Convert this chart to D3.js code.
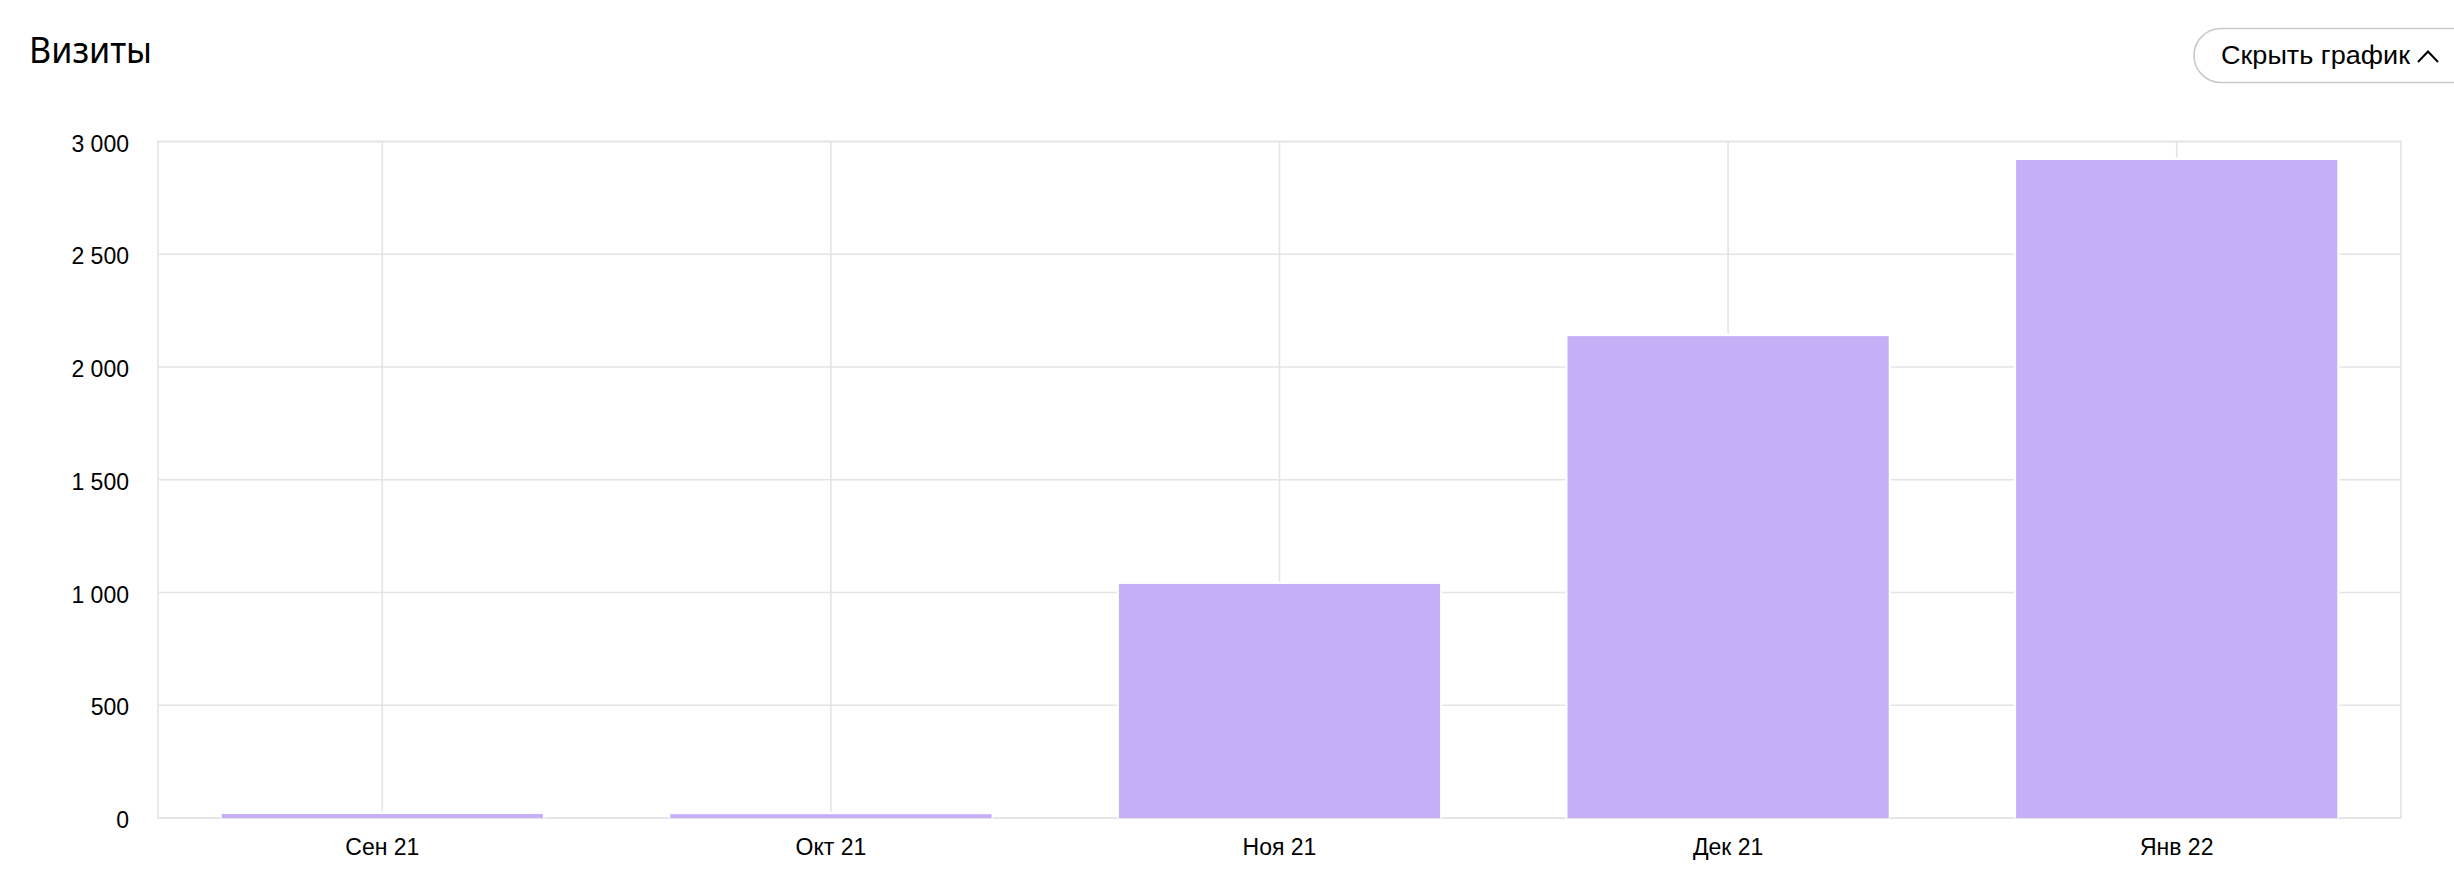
<!DOCTYPE html>
<html>
<head>
<meta charset="utf-8">
<script src="https://cdn.jsdelivr.net/npm/d3@7"></script>
<style>
  html, body { margin: 0; padding: 0; background: #fff; }
  svg { display: block; }
</style>
</head>
<body>
<svg id="chart" width="2454" height="882"></svg>
<script>
const categories = ["Сен 21", "Окт 21", "Ноя 21", "Дек 21", "Янв 22"];
const visits = [18, 17, 1038, 2137, 2918];
const yTicks = [0, 500, 1000, 1500, 2000, 2500, 3000];
const title = "Визиты";
const buttonLabel = "Скрыть график";

const W = 2454, H = 882;
const plot = { left: 158, right: 2401, top: 141.5, bottom: 818 };
const gridColor = "#e4e4e4";
const barColor = "#c5b0f7";
const labelFont = "'Liberation Sans', Arial, Helvetica, sans-serif";

const svg = d3.select("#chart");

const x = d3.scaleBand()
  .domain(categories)
  .range([plot.left, plot.right])
  .paddingInner(0.284)
  .paddingOuter(0.142);

const y = d3.scaleLinear()
  .domain([0, 3000])
  .range([plot.bottom, plot.top]);

const ru = d3.formatLocale({ decimal: ",", thousands: "\u00a0", grouping: [3], currency: ["", ""] });
const fmt = ru.format(",");

// title
svg.append("text")
  .attr("x", 29).attr("y", 63)
  .attr("font-family", "'Noto Sans', 'Open Sans', sans-serif")
  .attr("font-size", 36)
  .attr("textLength", 123)
  .attr("lengthAdjust", "spacingAndGlyphs")
  .attr("fill", "#000")
  .text(title);

// button
const btn = svg.append("g");
btn.append("rect")
  .attr("x", 2194).attr("y", 28.5)
  .attr("width", 300).attr("height", 54)
  .attr("rx", 27).attr("ry", 27)
  .attr("fill", "#fff")
  .attr("stroke", "#c9c9c9")
  .attr("stroke-width", 1.6);
btn.append("text")
  .attr("x", 2221).attr("y", 63.5)
  .attr("font-family", labelFont)
  .attr("font-size", 26)
  .attr("textLength", 189)
  .attr("lengthAdjust", "spacingAndGlyphs")
  .attr("fill", "#000")
  .text(buttonLabel);
btn.append("path")
  .attr("d", "M2418,62 L2428,51.5 L2438,62")
  .attr("fill", "none")
  .attr("stroke", "#000")
  .attr("stroke-width", 2);

// horizontal grid
svg.append("g")
  .selectAll("line")
  .data(yTicks)
  .join("line")
  .attr("x1", plot.left).attr("x2", plot.right)
  .attr("y1", d => y(d)).attr("y2", d => y(d))
  .attr("stroke", gridColor)
  .attr("stroke-width", 1.6);

// vertical grid at category centers
svg.append("g")
  .selectAll("line")
  .data(categories)
  .join("line")
  .attr("x1", d => x(d) + x.bandwidth() / 2)
  .attr("x2", d => x(d) + x.bandwidth() / 2)
  .attr("y1", plot.top).attr("y2", plot.bottom)
  .attr("stroke", gridColor)
  .attr("stroke-width", 1.6);

// frame
svg.append("rect")
  .attr("x", plot.left).attr("y", plot.top)
  .attr("width", plot.right - plot.left)
  .attr("height", plot.bottom - plot.top)
  .attr("fill", "none")
  .attr("stroke", gridColor)
  .attr("stroke-width", 1.6);

// bar halos (white gap around bars)
svg.append("g")
  .selectAll("rect")
  .data(visits)
  .join("rect")
  .attr("x", (d, i) => x(categories[i]) - 2)
  .attr("y", d => y(d) - 2.5)
  .attr("width", x.bandwidth() + 4)
  .attr("height", d => plot.bottom - y(d) + 2.5)
  .attr("fill", "#fff");

// bars
svg.append("g")
  .selectAll("rect")
  .data(visits)
  .join("rect")
  .attr("x", (d, i) => x(categories[i]))
  .attr("y", d => y(d))
  .attr("width", x.bandwidth())
  .attr("height", d => plot.bottom - y(d))
  .attr("fill", barColor);

// y axis
const yAxis = svg.append("g")
  .attr("transform", `translate(${plot.left},0)`)
  .call(d3.axisLeft(y).tickValues(yTicks).tickFormat(fmt).tickSize(0).tickPadding(29));
yAxis.select(".domain").remove();
yAxis.selectAll("text")
  .attr("font-family", labelFont)
  .attr("font-size", 23)
  .attr("fill", "#000")
  .attr("dy", "0.42em");

// x axis
const xAxis = svg.append("g")
  .attr("transform", `translate(0,${plot.bottom})`)
  .call(d3.axisBottom(x).tickSize(0).tickPadding(21));
xAxis.select(".domain").remove();
xAxis.selectAll("text")
  .attr("font-family", labelFont)
  .attr("font-size", 23)
  .attr("fill", "#000");
</script>
</body>
</html>
